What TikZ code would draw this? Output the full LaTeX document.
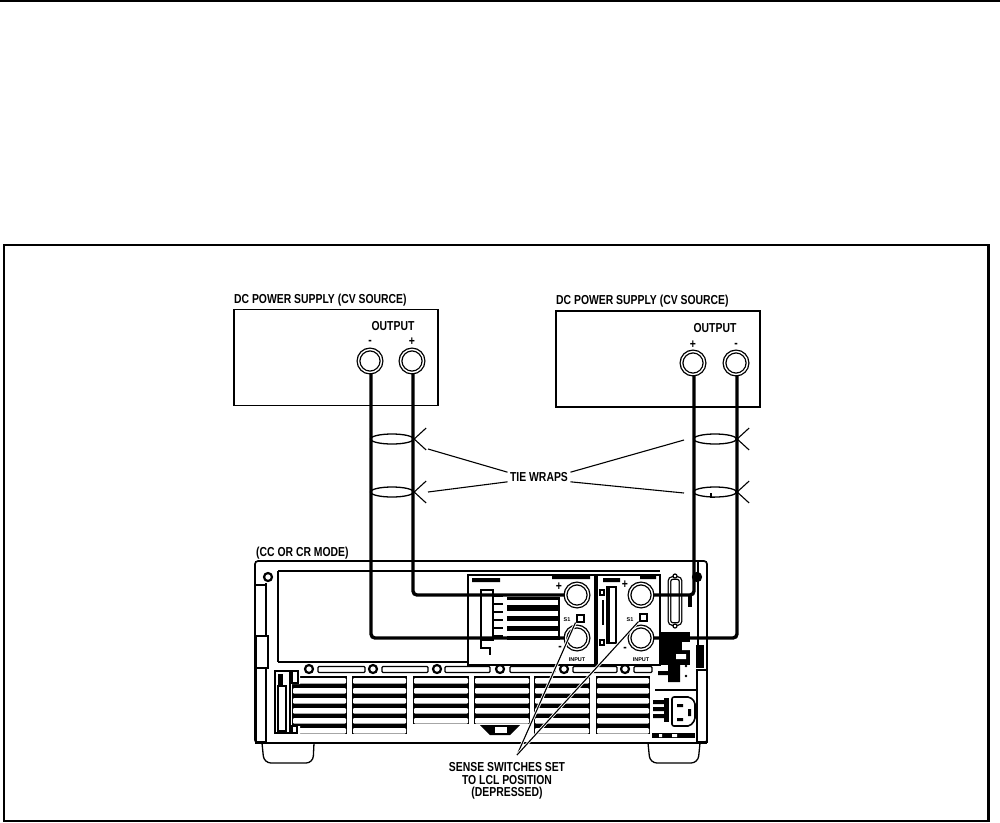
\documentclass[tikz,border=0pt]{standalone}
\usepackage{fontspec}
\setmainfont{Liberation Sans}
\usetikzlibrary{shapes.geometric}

\tikzset{
    lbl/.style={inner sep=0pt, xscale=.8, font=\fontsize{13}{14}\bfseries\selectfont},
    tinylbl/.style={inner sep=0pt, font=\fontsize{5.5}{6}\bfseries\selectfont},
    supply/.style={draw, line width=1.3pt, minimum width=204, minimum height=96},
    terminal/.style={circle, draw, fill=white, line width=1.3pt, double, double distance=1.4pt, minimum size=23pt, inner sep=0pt},
    wire/.style={line width=3.4pt, rounded corners=4pt},
    tie/.style={ellipse, draw, line width=1.3pt, minimum width=43pt, minimum height=10pt, inner sep=0pt},
    leader/.style={line width=1.1pt},
    halo/.style={line width=1.1pt, preaction={draw, white, line width=2.8pt}},
    screw/.style={circle, draw, fill=white, line width=2.2pt, minimum size=8pt, inner sep=0pt},
    pnl/.style={draw, line width=1.3pt, fill=white}
}

\begin{document}
\begin{tikzpicture}[x=1pt, y=-1pt]
    \useasboundingbox (0,0) rectangle (1000,822);
    \draw[line width=2pt] (0,1) -- (1000,1);
    \draw[line width=2.2pt] (4,245) rectangle (988.5,821);

    % the two supplies
    \node[supply] (supA) at (336,357.5) {};
    \node[supply] (supB) at (658,359) {};
    \node[lbl, anchor=west] (capA) at (234,300) {DC POWER SUPPLY (CV SOURCE)};
    \node[lbl, anchor=west] (capB) at (556,301) {DC POWER SUPPLY (CV SOURCE)};
    \node[lbl] (outA) at (393,326) {OUTPUT};
    \node[lbl] (outB) at (715,328) {OUTPUT};
    \node[lbl] (signAn) at (370,342) {-};
    \node[lbl] (signAp) at (412,342) {+};
    \node[lbl] (signBp) at (693,345) {+};
    \node[lbl] (signBn) at (736,345) {-};

    % load chassis
    \node[lbl, anchor=west] (capL) at (256,553) {(CC OR CR MODE)};
    \draw[line width=1.3pt, rounded corners=7pt] (262,743) -- (264,763) -- (313,763) -- (314,743);
    \draw[line width=1.3pt, rounded corners=7pt] (648,743) -- (650,763) -- (698,763) -- (700,743);
    \draw[pnl, rounded corners=3pt, line width=1.7pt] (255,561) rectangle (707,743);
    \draw[line width=1.5pt] (278,571) -- (660,571) (278,571) -- (278,662);
    \draw[line width=2.4pt] (278,662) -- (660,662);
    \draw[line width=1.3pt] (266,583) -- (266,636) (255,585) -- (266,585);
    \draw[pnl] (256,636) rectangle (268,668);
    \draw[pnl] (256,668) rectangle (266,742);
    \draw[line width=1.3pt] (698,561) -- (698,665) (697,670) rectangle (707,742);
    \draw[line width=2.4pt] (255,743) -- (707,743);

    % screws along the panel
    \foreach \sx in {309,373,437,500,564,625}
        \node[screw] at (\sx,669) {};
    \foreach \sl/\sr in {318/365,382/428,445/490,510/555,573/617,634/652}
        \draw[line width=1.3pt, rounded corners=1pt] (\sl,666.5) rectangle (\sr,672.5);
    \node[screw] (scrTL) at (268,577) {};
    \node[screw, fill=black] (scrTR) at (697,577) {};

    % vents
    \foreach \vl/\vr/\vlast in {292/347/728,352/407/728,413/469/718,474/530/718,534/590/728,596/650/728}{
        \fill (\vl,676) rectangle (\vr,\vlast+6);
        \foreach \vy in {678,688,...,\vlast}
            \fill[white, rounded corners=1pt] (\vl+1,\vy) rectangle (\vr-1,\vy+5.5);
    }
    \fill[white] (292,676) rectangle (300,684) (292,726) rectangle (300,735);
    \draw[pnl] (275,671) rectangle (290,733);
    \fill (278,674) rectangle (283,685);
    \draw[line width=1.3pt] (278,686) rectangle (286,731);
    \draw[line width=1.3pt] (292,671) rectangle (298,683) (292,726) rectangle (297,733);
    \fill (480,725) -- (520,725) -- (510,735) -- (490,735) -- cycle;
    \fill[white] (495,727) rectangle (507,733);

    % input modules
    \draw[pnl] (468,575) rectangle (595,665);
    \draw[pnl] (597,575) rectangle (660,665);
    \fill (472,578) rectangle (500,582) (552,576) rectangle (590,579);
    \fill (603,578) rectangle (620,582) (640,576) rectangle (656,579);
    \fill (507,597) rectangle (560,640);
    \foreach \fy in {600,611,621,631}
        \fill[white] (507,\fy) rectangle (558,\fy+5);
    \draw[pnl] (481,590) rectangle (493,640);
    \foreach \fy in {596,604,...,636}
        \draw[line width=1.6pt] (493,\fy) -- (503,\fy);
    \draw[line width=1.3pt] (481,640) -- (481,648) -- (490,648) -- (490,655);
    \draw[pnl] (607,587) rectangle (616,643);
    \draw[line width=2.6pt] (609,587) -- (609,643);
    \draw[line width=1.3pt] (600,590) rectangle (604,595) (600,640) rectangle (604,645);
    \draw[line width=2.2pt] (603,600) -- (603,625);
    \node[lbl] (plusA) at (559,587) {+};
    \node[lbl] (plusB) at (625,585) {+};
    \node[lbl] (minusA) at (560,648) {-};
    \node[lbl] (minusB) at (625,649) {-};
    \node[tinylbl] (inpA) at (577,660) {INPUT};
    \node[tinylbl] (inpB) at (641,660) {INPUT};
    \node[tinylbl] (sA) at (567,620) {S1};
    \node[tinylbl] (sB) at (630,620) {S1};
    \node[draw, fill=white, line width=2pt, minimum size=7pt, inner sep=0pt] (swA) at (580,618) {};
    \node[draw, fill=white, line width=2pt, minimum size=7pt, inner sep=0pt] (swB) at (643,617) {};

    % rear connector, power block and inlet
    \node[draw, fill=white, line width=1.3pt, double, double distance=1.2pt, rounded corners=3pt, minimum width=11pt, minimum height=46pt, inner sep=0pt] (conn) at (675,601) {};
    \node[screw, line width=1.2pt, minimum size=4pt] (connT) at (675,576) {};
    \node[screw, line width=1.2pt, minimum size=4pt] (connB) at (675,626) {};
    \fill (660,632) rectangle (690,665);
    \fill[white] (682,642) rectangle (695,650) (676,654) rectangle (686,659);
    \fill (696,645) rectangle (704,668);
    \fill (668,660) rectangle (680,682) (658,671) rectangle (668,675);
    \fill (686,666) circle (1.4pt) (686,676) circle (1.4pt);
    \draw[line width=1.3pt] (655,690) -- (698,690);
    \fill (653,700) rectangle (667,704) (653,707) rectangle (667,711) (653,714) rectangle (667,718);
    \fill (664,698) rectangle (669,722);
    \draw[line width=1.6pt, rounded corners=2pt] (672,697) -- (690,697) -- (695,702) -- (695,720) -- (690,726) -- (672,726) -- cycle;
    \fill (677,704) rectangle (683,707) (677,718) rectangle (683,721) (688,709) rectangle (691,716);
    \fill (652,733) rectangle (695,738);
    \fill[white] (672,734) rectangle (677,737) (659,734) rectangle (662,737);

    % terminals
    \node[terminal] (posA) at (412,361) {};
    \node[terminal] (negA) at (370,361) {};
    \node[terminal] (posB) at (693,363) {};
    \node[terminal] (negB) at (736,363) {};
    \node[terminal] (inApos) at (577,595) {};
    \node[terminal] (inAneg) at (577,638) {};
    \node[terminal] (inBpos) at (641,595) {};
    \node[terminal] (inBneg) at (641,638) {};

    % leads
    \draw[wire] (negA.south) ++(1,0) |- (inAneg.west);
    \draw[wire] (posA.south) ++(1,0) |- (inApos.west);
    \draw[wire] (posB.south) ++(1,0) |- (inBpos.east);
    \draw[wire] (negB.south) ++(1,0) |- (inBneg.east);
    \draw[line width=3.4pt] (690,594) -- (690,607);

    % tie wraps
    \node[tie] (tieA) at (392,439) {};
    \node[tie] (tieB) at (392,492) {};
    \node[tie] (tieC) at (715,439) {};
    \node[tie] (tieD) at (715,492) {};
    \draw[leader] (tieD.south) -- ++(-4,0) -- ++(0,-5);
    \foreach \tn in {A,B,C,D}{
        \draw[leader] (tie\tn.east) -- ++(12,-11);
        \draw[leader] (tie\tn.east) -- ++(12,11);
    }
    \node[lbl, inner xsep=3pt] (wraps) at (539,477) {TIE WRAPS};
    \coordinate (endA) at (428,449);
    \coordinate (endB) at (428,492);
    \coordinate (endC) at (684,440);
    \coordinate (endD) at (684,493);
    \draw[leader] (wraps.north west) -- (endA);
    \draw[leader] (wraps.south west) -- (endB);
    \draw[leader] (wraps.north east) -- (endC);
    \draw[leader] (wraps.south east) -- (endD);

    % sense switch note
    \node[lbl] (note1) at (507,767) {SENSE SWITCHES SET};
    \node[lbl] (note2) at (507,780) {TO LCL POSITION};
    \node[lbl] (note3) at (507,793) {(DEPRESSED)};
    \coordinate (apex) at (517,755);
    \draw[halo] (apex) -- (swA.south west);
    \draw[halo] (apex) -- (swB.south west);
\end{tikzpicture}
\end{document}
